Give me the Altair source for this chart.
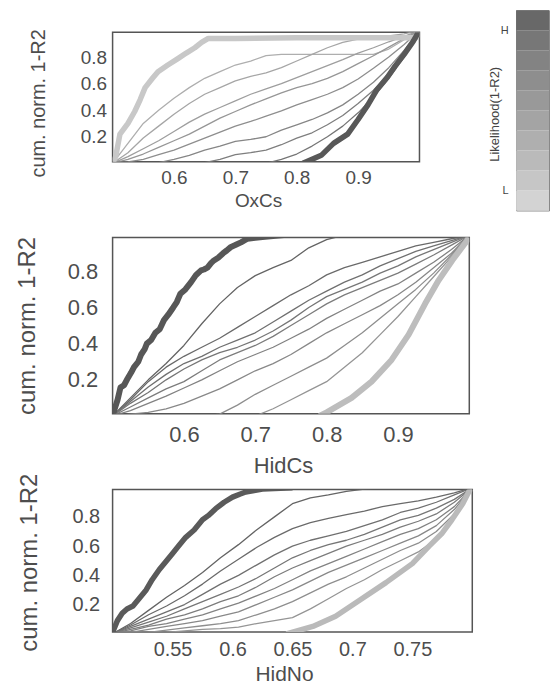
import altair as alt
import pandas as pd

FONT = "Liberation Sans"
TXT = "#4d4d4d"
YDOM = [0.0125, 0.9875]
YTICKS = [0.2, 0.4, 0.6, 0.8]

# ---------------- Panel 1 : OxCs ----------------
OX_X = [0.5, 0.525, 0.55, 0.575, 0.6, 0.625, 0.65, 0.675, 0.7, 0.725, 0.75,
        0.775, 0.8, 0.825, 0.85, 0.875, 0.9, 0.925, 0.95, 0.975, 1.0]
OX_C = [0.0, 0.15, 0.30, 0.40, 0.49, 0.57, 0.64, 0.69, 0.74, 0.77, 0.81,
        0.82, 0.82, 0.82, 0.82, 0.82, 0.82, 0.82, 0.86, 0.93, 1.0]
OX_D = [0.0, 0.08, 0.19, 0.28, 0.37, 0.45, 0.52, 0.57, 0.62, 0.655, 0.68,
        0.72, 0.77, 0.82, 0.87, 0.91, 0.935, 0.95, 0.96, 0.975, 1.0]
OX_E = [0.0, 0.05, 0.11, 0.17, 0.24, 0.31, 0.37, 0.42, 0.47, 0.52, 0.56,
        0.60, 0.645, 0.69, 0.735, 0.78, 0.83, 0.87, 0.915, 0.955, 1.0]
OX_F = [0.0, 0.03, 0.07, 0.12, 0.17, 0.22, 0.28, 0.34, 0.39, 0.44, 0.485,
        0.53, 0.57, 0.60, 0.64, 0.69, 0.75, 0.81, 0.875, 0.94, 1.0]
OX_G = [0.0, 0.01, 0.03, 0.065, 0.10, 0.145, 0.19, 0.235, 0.28, 0.315, 0.355,
        0.395, 0.44, 0.48, 0.52, 0.57, 0.635, 0.715, 0.80, 0.895, 1.0]
OX_H = [0.0, 0.0, 0.0, 0.005, 0.03, 0.06, 0.10, 0.13, 0.165, 0.18, 0.20,
        0.25, 0.29, 0.33, 0.38, 0.44, 0.52, 0.61, 0.72, 0.85, 1.0]
OX_K = [0.0, 0.0, 0.0, 0.0, 0.0, 0.0, 0.005, 0.03, 0.065, 0.08, 0.10,
        0.14, 0.19, 0.23, 0.29, 0.36, 0.45, 0.55, 0.67, 0.82, 1.0]
OX_I = [0.0, 0.0, 0.0, 0.0, 0.0, 0.0, 0.0, 0.0, 0.0, 0.0, 0.0,
        0.03, 0.07, 0.13, 0.20, 0.28, 0.38, 0.50, 0.64, 0.80, 1.0]
OX_LOW_X = [0.5, 0.505, 0.512, 0.525, 0.536, 0.545, 0.553, 0.565, 0.574, 0.59,
            0.607, 0.62, 0.634, 0.645, 0.656, 0.7, 0.8, 0.9, 0.995, 1.0]
OX_LOW_Y = [0.0, 0.05, 0.22, 0.30, 0.39, 0.48, 0.57, 0.64, 0.69, 0.74,
            0.79, 0.83, 0.87, 0.91, 0.94, 0.94, 0.945, 0.945, 0.945, 1.0]
OX_HIGH_X = [0.81, 0.84, 0.86, 0.883, 0.9, 0.916, 0.93, 0.948, 0.96, 0.975, 0.99, 1.0]
OX_HIGH_Y = [0.0, 0.06, 0.15, 0.22, 0.33, 0.44, 0.55, 0.65, 0.73, 0.82, 0.92, 1.0]
OX_TICKS = [0.6, 0.7, 0.8, 0.9]

# ---------------- Panel 2 : HidCs ----------------
HC_X = OX_X
HC_P1 = [0.0, 0.10, 0.20, 0.29, 0.39, 0.51, 0.62, 0.71, 0.776, 0.82, 0.86,
         0.93, 0.975, 1.0, 1.0, 1.0, 1.0, 1.0, 1.0, 1.0, 1.0]
HC_P2 = [0.0, 0.09, 0.19, 0.27, 0.33, 0.38, 0.43, 0.49, 0.55, 0.61, 0.67,
         0.72, 0.78, 0.82, 0.85, 0.88, 0.91, 0.94, 0.96, 0.98, 1.0]
HC_P3 = [0.0, 0.08, 0.16, 0.23, 0.29, 0.33, 0.38, 0.42, 0.46, 0.52, 0.58,
         0.64, 0.69, 0.74, 0.78, 0.83, 0.87, 0.91, 0.94, 0.97, 1.0]
HC_P4 = [0.0, 0.07, 0.13, 0.20, 0.26, 0.31, 0.35, 0.38, 0.42, 0.47, 0.53,
         0.60, 0.66, 0.70, 0.74, 0.79, 0.83, 0.88, 0.92, 0.96, 1.0]
HC_P5 = [0.0, 0.05, 0.10, 0.15, 0.19, 0.25, 0.31, 0.35, 0.39, 0.44, 0.50,
         0.56, 0.62, 0.67, 0.71, 0.75, 0.79, 0.84, 0.89, 0.945, 1.0]
HC_P6 = [0.0, 0.03, 0.07, 0.11, 0.155, 0.20, 0.25, 0.30, 0.34, 0.38, 0.43,
         0.48, 0.54, 0.59, 0.64, 0.69, 0.73, 0.79, 0.85, 0.92, 1.0]
HC_P7 = [0.0, 0.01, 0.02, 0.04, 0.07, 0.11, 0.15, 0.20, 0.25, 0.29, 0.34,
         0.40, 0.46, 0.51, 0.56, 0.61, 0.67, 0.74, 0.82, 0.90, 1.0]
HC_P8 = [0.0, 0.0, 0.0, 0.0, 0.0, 0.0, 0.01, 0.06, 0.12, 0.17, 0.22,
         0.27, 0.32, 0.39, 0.46, 0.54, 0.62, 0.70, 0.79, 0.89, 1.0]
HC_P9 = [0.0, 0.0, 0.0, 0.0, 0.0, 0.0, 0.0, 0.0, 0.0, 0.04, 0.09,
         0.14, 0.19, 0.27, 0.35, 0.45, 0.55, 0.66, 0.77, 0.88, 1.0]
HC_HIGH_X = [0.5, 0.503, 0.507, 0.511, 0.516, 0.52, 0.526, 0.53, 0.536, 0.54,
             0.545, 0.548, 0.554, 0.56, 0.566, 0.572, 0.578, 0.585, 0.59, 0.595,
             0.602, 0.61, 0.617, 0.624, 0.628, 0.633, 0.638, 0.642, 0.648, 0.655,
             0.66, 0.666, 0.672, 0.68, 0.689, 0.70, 0.71, 0.725, 0.74]
HC_HIGH_Y = [0.0, 0.04, 0.09, 0.157, 0.17, 0.20, 0.24, 0.27, 0.30, 0.34,
             0.37, 0.40, 0.42, 0.46, 0.48, 0.53, 0.56, 0.60, 0.63, 0.676,
             0.70, 0.74, 0.78, 0.805, 0.81, 0.82, 0.845, 0.86, 0.875, 0.90,
             0.915, 0.935, 0.945, 0.96, 0.98, 0.985, 0.99, 0.995, 1.0]
HC_LOW_X = [0.79, 0.80, 0.835, 0.863, 0.891, 0.915, 0.938, 0.957, 0.976, 0.997, 1.0]
HC_LOW_Y = [0.0, 0.02, 0.10, 0.19, 0.31, 0.45, 0.62, 0.75, 0.86, 0.97, 1.0]
HC_TICKS = [0.6, 0.7, 0.8, 0.9]

# ---------------- Panel 3 : HidNo ----------------
HN_X = [0.5, 0.515, 0.53, 0.545, 0.56, 0.575, 0.59, 0.605, 0.62, 0.635, 0.65,
        0.665, 0.68, 0.695, 0.71, 0.725, 0.74, 0.755, 0.77, 0.785, 0.8]
HN_Z1 = [0.0, 0.07, 0.16, 0.25, 0.33, 0.42, 0.52, 0.61, 0.71, 0.80, 0.89,
         0.93, 0.95, 0.975, 0.99, 1.0, 1.0, 1.0, 1.0, 1.0, 1.0]
HN_Z2 = [0.0, 0.06, 0.13, 0.19, 0.26, 0.34, 0.43, 0.51, 0.59, 0.66, 0.72,
         0.76, 0.79, 0.815, 0.84, 0.87, 0.89, 0.91, 0.935, 0.965, 1.0]
HN_Z3 = [0.0, 0.05, 0.10, 0.15, 0.20, 0.27, 0.34, 0.40, 0.47, 0.54, 0.60,
         0.64, 0.67, 0.70, 0.74, 0.78, 0.83, 0.86, 0.90, 0.95, 1.0]
HN_Z4 = [0.0, 0.04, 0.08, 0.12, 0.17, 0.22, 0.27, 0.32, 0.38, 0.45, 0.52,
         0.57, 0.61, 0.64, 0.68, 0.73, 0.78, 0.81, 0.86, 0.92, 1.0]
HN_Z5 = [0.0, 0.03, 0.06, 0.10, 0.13, 0.17, 0.22, 0.26, 0.32, 0.39, 0.45,
         0.50, 0.55, 0.60, 0.64, 0.68, 0.73, 0.77, 0.82, 0.90, 1.0]
HN_Z6 = [0.0, 0.02, 0.05, 0.07, 0.10, 0.13, 0.17, 0.21, 0.26, 0.31, 0.37,
         0.43, 0.48, 0.53, 0.58, 0.63, 0.68, 0.72, 0.78, 0.87, 1.0]
HN_Z7 = [0.0, 0.01, 0.03, 0.05, 0.07, 0.09, 0.12, 0.15, 0.20, 0.25, 0.30,
         0.36, 0.42, 0.47, 0.52, 0.57, 0.62, 0.67, 0.74, 0.85, 1.0]
HN_Z8 = [0.0, 0.005, 0.01, 0.025, 0.04, 0.055, 0.07, 0.09, 0.13, 0.17, 0.22,
         0.28, 0.34, 0.39, 0.45, 0.51, 0.57, 0.62, 0.70, 0.82, 1.0]
HN_Z9 = [0.0, 0.0, 0.005, 0.01, 0.02, 0.03, 0.035, 0.045, 0.07, 0.09, 0.11,
         0.17, 0.24, 0.31, 0.37, 0.44, 0.50, 0.56, 0.65, 0.79, 1.0]
HN_HIGH_X = [0.5, 0.501, 0.504, 0.508, 0.512, 0.517, 0.522, 0.528, 0.533, 0.539,
             0.544, 0.55, 0.555, 0.561, 0.568, 0.575, 0.58, 0.586, 0.593, 0.6,
             0.606, 0.611, 0.618, 0.625, 0.64, 0.65]
HN_HIGH_Y = [0.0, 0.03, 0.09, 0.14, 0.17, 0.19, 0.24, 0.30, 0.37, 0.44,
             0.49, 0.55, 0.60, 0.66, 0.71, 0.78, 0.81, 0.856, 0.90, 0.935,
             0.955, 0.97, 0.98, 0.99, 0.995, 1.0]
HN_LOW_X = [0.645, 0.667, 0.686, 0.706, 0.728, 0.75, 0.764, 0.775, 0.783, 0.792, 0.797, 0.8]
HN_LOW_Y = [0.0, 0.05, 0.12, 0.23, 0.35, 0.48, 0.60, 0.69, 0.78, 0.89, 0.97, 1.0]
HN_TICKS = [0.55, 0.6, 0.65, 0.7, 0.75]

# ---------------- Colour bar ----------------
CB_LEVELS = [0, 1, 2, 3, 4, 5, 6, 7, 8, 9]
CB_COLORS = ["#d3d3d3", "#c6c6c6", "#bababa", "#afafaf", "#a4a4a4",
             "#999999", "#8e8e8e", "#838383", "#777777", "#686868"]
CB_TICKS = [1, 9]


def frame(names, xs_list, ys_list):
    rows = []
    for n, xs, ys in zip(names, xs_list, ys_list):
        for x, y in zip(xs, ys):
            rows.append({"s": n, "x": x, "y": y})
    return pd.DataFrame(rows)


def panel(thin_names, thin_x, thin_ys, thin_colors,
          thick_names, thick_xs, thick_ys, thick_colors,
          xdom, xticks, xtitle, w, h, st):
    df_thin = frame(thin_names, [thin_x] * len(thin_ys), thin_ys)
    df_thick = frame(thick_names, thick_xs, thick_ys)
    col = alt.Color("s:N", scale=alt.Scale(domain=thin_names + thick_names,
                                           range=thin_colors + thick_colors),
                    legend=None)
    xenc = alt.X("x:Q", scale=alt.Scale(domain=xdom, nice=False, zero=False),
                 axis=alt.Axis(values=xticks, format="~g", grid=False, ticks=False,
                               domain=False, labelFont=FONT, labelFontSize=st["lab"],
                               labelColor=TXT, labelPadding=st["xpad"], labelOverlap=False,
                               labelFlush=False,
                               title=xtitle, titleFont=FONT, titleFontSize=st["xt"],
                               titleFontWeight="normal", titleColor=TXT,
                               titleX=st["xtx"], titleY=st["xty"],
                               titleAlign="center", titleBaseline="middle"))
    yenc = alt.Y("y:Q", scale=alt.Scale(domain=YDOM, nice=False, zero=False),
                 axis=alt.Axis(values=YTICKS, format="~g", grid=False, ticks=False,
                               domain=False, labelFont=FONT, labelFontSize=st["lab"],
                               labelColor=TXT, labelPadding=st["ypad"], labelOverlap=False,
                               labelFlush=False,
                               title="cum. norm. 1-R2", titleFont=FONT,
                               titleFontSize=st["yt"], titleFontWeight="normal",
                               titleColor=TXT, titleX=st["ytx"], titleY=st["yty"],
                               titleAngle=270, titleAlign="center",
                               titleBaseline="middle"))
    thin = alt.Chart(df_thin).mark_line(clip=True, strokeWidth=1.3,
                                        strokeJoin="round").encode(x=xenc, y=yenc, color=col)
    thick = alt.Chart(df_thick).mark_line(clip=True, strokeWidth=st["thick"],
                                          strokeJoin="round").encode(x=xenc, y=yenc, color=col)
    return alt.layer(thin, thick).properties(
        width=w, height=h,
        view=alt.ViewBackground(stroke="#555555", strokeWidth=1.5))


p1 = panel(["oxC", "oxD", "oxE", "oxF", "oxG", "oxH", "oxK", "oxI"], OX_X,
           [OX_C, OX_D, OX_E, OX_F, OX_G, OX_H, OX_K, OX_I],
           ["#aeaeae", "#a6a6a6", "#9e9e9e", "#969696", "#8e8e8e", "#868686",
            "#7e7e7e", "#767676"],
           ["oxLow", "oxHigh"], [OX_LOW_X, OX_HIGH_X], [OX_LOW_Y, OX_HIGH_Y],
           ["#c8c8c8", "#585858"],
           [0.5, 1.0], OX_TICKS, "OxCs", 308, 130,
           dict(lab=19, xpad=7, ypad=6, xt=19, xtx=146, xty=39.5,
                yt=20, ytx=-74.5, yty=71, thick=5.5))

p2 = panel(["hc1", "hc2", "hc3", "hc4", "hc5", "hc6", "hc7", "hc8", "hc9"], HC_X,
           [HC_P1, HC_P2, HC_P3, HC_P4, HC_P5, HC_P6, HC_P7, HC_P8, HC_P9],
           ["#646464", "#6a6a6a", "#707070", "#767676", "#7c7c7c", "#828282",
            "#888888", "#8e8e8e", "#959595"],
           ["hcHigh", "hcLow"], [HC_HIGH_X, HC_LOW_X], [HC_HIGH_Y, HC_LOW_Y],
           ["#575757", "#bdbdbd"],
           [0.5, 1.0], HC_TICKS, "HidCs", 358, 177,
           dict(lab=22, xpad=11, ypad=15, xt=22, xtx=171, xty=51.5,
                yt=24, ytx=-85, yty=88.5, thick=6))

p3 = panel(["hn1", "hn2", "hn3", "hn4", "hn5", "hn6", "hn7", "hn8", "hn9"], HN_X,
           [HN_Z1, HN_Z2, HN_Z3, HN_Z4, HN_Z5, HN_Z6, HN_Z7, HN_Z8, HN_Z9],
           ["#646464", "#6a6a6a", "#707070", "#767676", "#7c7c7c", "#828282",
            "#888888", "#8e8e8e", "#959595"],
           ["hnHigh", "hnLow"], [HN_HIGH_X, HN_LOW_X], [HN_HIGH_Y, HN_LOW_Y],
           ["#5a5a5a", "#bababa"],
           [0.5, 0.8], HN_TICKS, "HidNo", 361, 143,
           dict(lab=20, xpad=8, ypad=13, xt=21, xtx=172, xty=42.5,
                yt=24, ytx=-83, yty=73, thick=5.5))

# colour bar (likelihood levels)
cb_df = pd.DataFrame({"lvl": CB_LEVELS,
                      "lo": CB_LEVELS,
                      "hi": [v + 1 for v in CB_LEVELS],
                      "x0": [0] * len(CB_LEVELS),
                      "x1": [1] * len(CB_LEVELS)})
cbar = alt.Chart(cb_df).mark_rect().encode(
    x=alt.X("x0:Q", scale=alt.Scale(domain=[0, 1], nice=False), axis=None),
    x2="x1:Q",
    y=alt.Y("lo:Q", scale=alt.Scale(domain=[0, 10], nice=False, zero=False),
            axis=alt.Axis(values=CB_TICKS, grid=False, ticks=False, domain=False,
                          labelExpr="datum.value > 5 ? 'H' : 'L'",
                          labelFont=FONT, labelFontSize=11, labelColor="#444444",
                          labelPadding=8,
                          title="Likelihood(1-R2)", titleFont=FONT, titleFontSize=13,
                          titleFontWeight="normal", titleColor="#444444",
                          titleX=-22, titleY=104, titleAngle=270,
                          titleAlign="center", titleBaseline="middle")),
    y2="hi:Q",
    color=alt.Color("lvl:O", scale=alt.Scale(domain=CB_LEVELS, range=CB_COLORS),
                    legend=None),
).properties(width=33, height=201,
             view=alt.ViewBackground(stroke="#888888", strokeWidth=1))

spacer = alt.Chart(pd.DataFrame({"v": [0]})).mark_point(opacity=0).encode(
    x=alt.X("v:Q", axis=None), y=alt.Y("v:Q", axis=None)
).properties(width=361, height=22,
             view=alt.ViewBackground(stroke="transparent"))

panels = alt.vconcat(p1, p2, p3, spacing=76, bounds="flush").resolve_scale(
    color="independent")
left = alt.vconcat(spacer, panels, spacing=0, bounds="flush").resolve_scale(
    color="independent")
# nested flush groups report no width, so the gap includes the panel width (361 + 44)
chart = alt.hconcat(left, cbar, spacing=405, bounds="flush").resolve_scale(
    color="independent").properties(
    padding={"left": 15, "top": 8, "right": 0, "bottom": 0},
    background="white",
)

chart.save("out.html", embed_options={"renderer": "svg", "actions": False})
